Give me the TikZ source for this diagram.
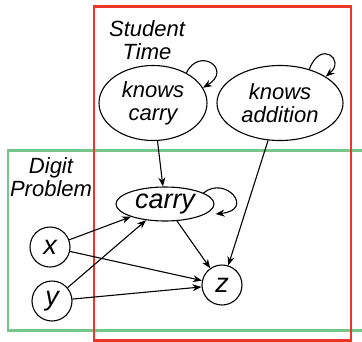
\documentclass[tikz,border=0pt]{standalone}
\usepackage{fontspec}
\setmainfont{Liberation Sans}
\usetikzlibrary{shapes.geometric,arrows.meta}
\definecolor{plateRed}{RGB}{236,52,40}
\definecolor{plateGreen}{RGB}{118,198,138}
\tikzset{
  var/.style={draw, line width=1.1pt, ellipse, inner sep=0pt, font=\itshape},
  big/.style={font=\fontsize{27}{27}\selectfont\itshape},
  small/.style={font=\fontsize{22}{24}\selectfont\itshape, align=center},
  edge/.style={line width=1.1pt, -{Stealth[length=9pt,width=7pt]}},
  plate/.style={line width=2.6pt}
}
\begin{document}
\begin{tikzpicture}[x=1pt,y=-1pt]
\useasboundingbox (0,0) rectangle (362,341);
% plates
\draw[plate, plateGreen] (8,150.5) rectangle (368,330.5);
\draw[plate, plateRed] (94,6.5) rectangle (351,340.5);
\node[small, anchor=center] (lblS) at (147,40) {Student\\[-1pt]Time};
\node[small, anchor=center] (lblD) at (51,177) {Digit\\[-1pt]Problem};
% variables
\node[var, small, minimum width=108pt, minimum height=75pt] (kc) at (153,103) {knows\\[-1pt]carry};
\node[var, small, minimum width=126pt, minimum height=75pt] (ka) at (280,103) {knows\\[-1pt]addition};
\node[var, big, minimum width=98pt, minimum height=34pt] (c) at (165,204) {carry};
\node[var, big, circle, minimum size=40pt] (x) at (50,247) {x};
\node[var, big, circle, minimum size=40pt] (y) at (52,301) {y};
\node[var, big, circle, minimum size=40pt] (z) at (222,285) {z};
% dependencies
\draw[edge] (kc) -- (c);
\draw[edge] (ka) -- (z);
\draw[edge] (c) -- (z);
\draw[edge] (x) -- (c);
\draw[edge] (x) -- (z);
\draw[edge] (y) -- (c);
\draw[edge] (y) -- (z);
% self loops over time
\draw[edge] (kc.42) .. controls +(13,-27) and +(30,-18) .. (kc.17);
\draw[edge] (ka.49) .. controls +(11,-30) and +(20,-17) .. (ka.30);
\draw[edge] (c.16) .. controls +(22,-18) and +(40,-4) .. ([shift={(1,10)}]c.east);
\end{tikzpicture}
\end{document}
